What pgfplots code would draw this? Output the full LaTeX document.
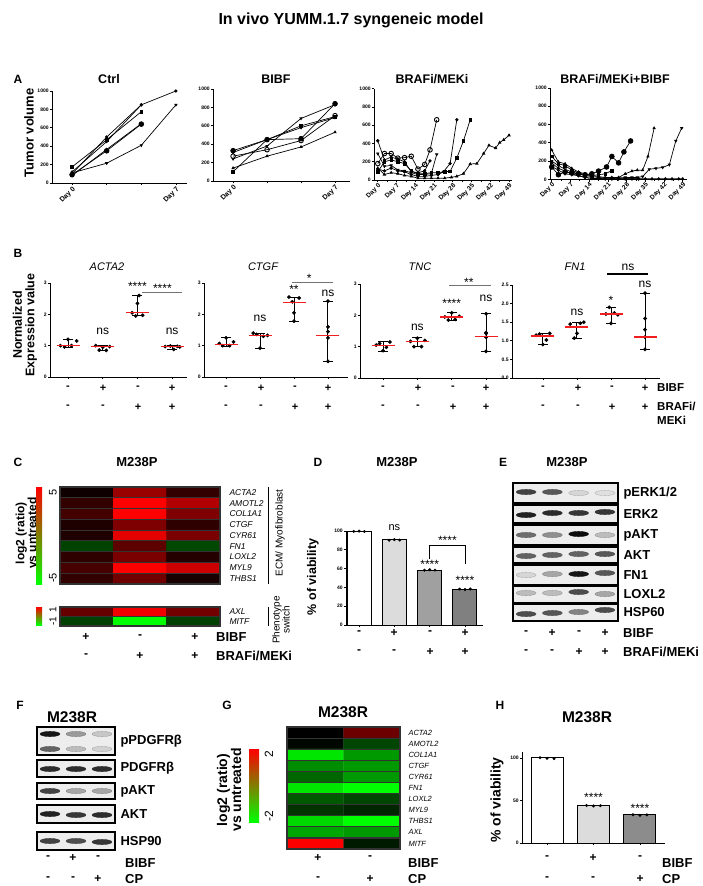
\documentclass[border=0pt]{standalone}
\usepackage{fontspec}
\setmainfont{Liberation Sans}
\usepackage{pgfplots}
\usepackage{pgfplotstable}
\pgfplotsset{compat=1.18}
\newcommand{\fs}[1]{\fontsize{#1}{#1}\selectfont}
\definecolor{medred}{RGB}{240,30,30}
\definecolor{barA}{RGB}{220,220,220}
\definecolor{barB}{RGB}{160,160,160}
\definecolor{barC}{RGB}{128,128,128}
\definecolor{barH}{RGB}{140,140,140}
\pgfplotsset{
  base/.style={scale only axis, anchor=south west, clip=false, axis lines*=left,
    axis line style={-, line width=0.9pt}, tick align=outside,
    tick style={black, line width=0.7pt}, major tick length=2.2pt, minor tick length=1.5pt,
    ticklabel style={font=\fs{5}\bfseries, inner sep=1pt},
    /pgf/number format/assume math mode=true, /pgf/number format/1000 sep={},
    scaled ticks=false},
  ln/.style={black, line width=0.7pt, mark size=1.3pt, mark options={solid, fill=black}},
  dayx/.style={xticklabel style={rotate=45, anchor=north east, font=\fs{7}\bfseries, inner sep=0.5pt}},
  dayxs/.style={xticklabel style={rotate=45, anchor=north east, font=\fs{6.5}\bfseries, inner sep=0.3pt}},
  rng/.style={black, line width=1pt, mark=-, mark size=5pt, unbounded coords=jump, mark options={solid, line width=1pt}},
  med/.style={only marks, mark=-, mark size=11.5pt, mark options={draw=medred, line width=1.2pt}},
  pts/.style={only marks, mark=*, mark size=1.7pt, black},
  hm/.style={scale only axis, anchor=south west, enlargelimits=false, y dir=reverse, axis on top,
    xtick=\empty, major tick length=0pt, minor tick length=0pt, grid=minor,
    minor grid style={draw=black!80, line width=1.2pt}, axis line style={black!80, line width=1.4pt},
    yticklabel pos=right, colormap={rg}{rgb255=(0,255,0) rgb255=(0,0,0) rgb255=(255,0,0)}},
  blot/.style={scale only axis, anchor=south west, clip=false, y dir=reverse,
    axis line style={draw=none}, xtick=\empty, major tick length=0pt, yticklabel pos=right,
    yticklabel style={font=\fs{13}\bfseries, xshift=2pt},
    colormap={bl}{rgb255=(232,232,232) rgb255=(12,12,12)}, point meta min=0, point meta max=1},
  band/.style={scatter, only marks, scatter src=explicit, mark=*, mark size=2.6pt, mark options={xscale=3.8}},
  cbar/.style={scale only axis, anchor=south west, hide axis},
}
\tikzset{
  pl/.style={font=\fs{12}\bfseries, inner sep=0pt},
  sg/.style={font=\fs{12}\bfseries, inner sep=0pt},
  sgB/.style={font=\fs{11}\bfseries, inner sep=0pt},
  lab/.style={font=\fs{13}\bfseries, anchor=west, inner sep=0pt},
  ann/.style={font=\fs{12}, inner sep=0pt},
  ttl/.style={font=\fs{13}\bfseries, inner sep=0pt},
}
\begin{document}
\begin{tikzpicture}[x=1pt,y=1pt]
\useasboundingbox (0,0) rectangle (703,-886);
\node[font=\fs{16}\bfseries] at (351,-20) {In vivo YUMM.1.7 syngeneic model};
% ---------------- Panel A ----------------
\node[pl] at (18,-79) {A};
\node[font=\fs{12.5}\bfseries] at (109,-79) {Ctrl};
\node[font=\fs{12.5}\bfseries] at (276,-79) {BIBF};
\node[font=\fs{12.5}\bfseries] at (432,-79) {BRAFi/MEKi};
\node[font=\fs{12.5}\bfseries] at (615,-79) {BRAFi/MEKi+BIBF};
\node[rotate=90, font=\fs{13}\bfseries] at (29,-133) {Tumor volume};

\begin{axis}[base, at={(52pt,-183pt)}, width=135pt, height=92pt, xmin=-0.58, xmax=3.32,
  ymin=0, ymax=1000, ytick={0,200,...,1000}, xtick={0,1,2,3}, xticklabels={Day 0,,,Day 7}, dayx]
\addplot[ln, mark=*] coordinates {(0,100)(1,500)(2,850)(3,1000)};
\addplot[ln, mark=square*] coordinates {(0,175)(1,470)(2,775)};
\addplot[ln, mark=*, mark size=2.4pt] coordinates {(0,90)(1,350)(2,640)};
\addplot[ln, mark=diamond*] coordinates {(0,120)(1,450)(2,850)};
\addplot[ln, mark=triangle*] coordinates {(0,80)(1,365)(2,645)};
\addplot[ln, mark=triangle*, mark options={solid, fill=black, rotate=180}] coordinates {(0,110)(1,215)(2,410)(3,850)};
\end{axis}

\begin{axis}[base, at={(213pt,-181pt)}, width=137pt, height=92pt, xmin=-0.59, xmax=3.44,
  ymin=0, ymax=1000, ytick={0,200,...,1000}, xtick={0,1,2,3}, xticklabels={Day 0,,,Day 7}, dayx]
\addplot[ln, mark=*, mark size=2.4pt] coordinates {(0,330)(1,450)(2,460)(3,840)};
\addplot[ln, mark=square*] coordinates {(0,100)(1,450)(2,600)(3,700)};
\addplot[ln, mark=o, mark size=2.3pt, mark options={solid, fill=white, line width=0.9pt}] coordinates {(0,270)(1,340)(2,440)(3,710)};
\addplot[ln, mark=triangle*] coordinates {(0,140)(1,270)(2,370)(3,530)};
\addplot[ln, mark=triangle*, mark options={solid, fill=black, rotate=180}] coordinates {(0,240)(1,380)(2,680)(3,830)};
\addplot[ln, mark=diamond*] coordinates {(0,310)(1,450)(2,580)(3,690)};
\end{axis}

\begin{axis}[base, at={(374pt,-180pt)}, width=138pt, height=91.3pt, xmin=-1.4, xmax=50.1,
  ymin=0, ymax=1000, ytick={0,200,...,1000}, xtick={0,7,...,49}, minor x tick num=1,
  xticklabels={Day 0,Day 7,Day 14,Day 21,Day 28,Day 35,Day 42,Day 49}, dayxs]
\addplot[ln, mark=o, mark size=2.3pt, mark options={solid, fill=white, line width=0.9pt}] coordinates {(0,180)(2.5,290)(5,290)(7.5,240)(10,245)(12.5,260)(15,120)(17.5,170)(19.5,330)(22,660)};
\addplot[ln, mark=*] coordinates {(0,430)(2.5,220)(5,250)(7.5,230)(10,200)(12.5,90)(15,80)(17.5,100)(19.5,210)};
\addplot[ln, mark=triangle*, mark options={solid, fill=black, rotate=180}] coordinates {(0,290)(2.5,150)(5,160)(7.5,110)(10,100)(12.5,80)(15,60)(17.5,60)(20,70)(22,280)};
\addplot[ln, mark=*] coordinates {(0,120)(2.5,100)(5,130)(7.5,100)(10,90)(12.5,60)(15,40)(17.5,40)(20,50)(22.5,60)(24.5,90)(27,180)(29.5,660)};
\addplot[ln, mark=square*] coordinates {(0,90)(2.5,200)(5,220)(7.5,200)(10,180)(12.5,100)(15,70)(17.5,70)(20,80)(22.5,80)(25,90)(27,95)(29.5,240)(32,430)(34.5,660)};
\addplot[ln, mark=triangle*] coordinates {(0,130)(2.5,60)(5,80)(7.5,70)(10,50)(12.5,40)(15,20)(17.5,20)(20,20)(22.5,20)(25,20)(27.5,30)(29.5,40)(32,70)(34.5,175)(37,180)(39.5,290)(41.5,380)(44,350)(45.5,410)(47,440)(49,490)};
\end{axis}

\begin{axis}[base, at={(550pt,-179.3pt)}, width=137pt, height=91.3pt, xmin=-0.64, xmax=50.6,
  ymin=0, ymax=1000, ytick={0,200,...,1000}, xtick={0,7,...,49}, minor x tick num=1,
  xticklabels={Day 0,Day 7,Day 14,Day 21,Day 28,Day 35,Day 42,Day 49}, dayxs]
\addplot[ln, mark=*, mark size=2.4pt] coordinates {(0,135)(2.5,50)(5,80)(7.5,70)(10,60)(12.5,50)(15,60)(17.5,90)(20.5,135)(22.5,250)(25,180)(27,300)(29.5,420)};
\addplot[ln, mark=triangle*] coordinates {(0,320)(2.5,190)(5,170)(7.5,120)(10,80)(12.5,60)(15,40)(17.5,30)(20,20)(22.5,20)(25,20)(27.5,60)(30,90)(32,100)(34,100)(36,250)(38.3,560)};
\addplot[ln, mark=triangle*, mark options={solid, fill=black, rotate=180}] coordinates {(0,200)(2.5,150)(5,110)(7.5,80)(10,60)(12.5,40)(15,30)(17.5,20)(20,15)(22.5,15)(25,15)(27.5,20)(30,20)(32,20)(34,30)(36.5,110)(39,120)(41.5,130)(44,160)(46.4,420)(48.6,560)};
\addplot[ln, mark=square*] coordinates {(0,250)(2.5,170)(5,150)(7.5,100)(10,70)(12.5,50)(15,40)(17.5,50)(20,60)(22.5,95)};
\addplot[ln, mark=diamond*] coordinates {(0,140)(2.5,100)(5,60)(7.5,50)(10,40)(12.5,20)(15,10)(17.5,8)(20,5)(22.5,5)(25,5)(27.5,5)(30,5)(32.5,5)(35,5)(37.5,5)(40,5)(42.5,5)(45,5)(47.5,5)(49,5)};
\addplot[ln, mark=*] coordinates {(0,180)(2.5,120)(5,90)(7.5,60)(10,40)(12.5,20)(15,10)(17.5,10)(20,5)(22.5,5)(25,5)(27.5,5)(30,5)(32.5,5)};
\end{axis}

% ---------------- Panel B ----------------
\node[pl] at (18,-253) {B};
\node[rotate=90, align=center, font=\fs{12.5}\bfseries] at (25,-325) {Normalized\\Expression value};
\node[font=\fs{11}\itshape] at (107,-267) {ACTA2};
\node[font=\fs{11}\itshape] at (263,-267) {CTGF};
\node[font=\fs{11}\itshape] at (420,-267) {TNC};
\node[font=\fs{11}\itshape] at (575,-267) {FN1};

\begin{axis}[base, at={(50pt,-377pt)}, width=137pt, height=94pt, xmin=0.48, xmax=4.43,
  ymin=0, ymax=3, ytick={0,1,2,3}, xtick={1,2,3,4}, xticklabels={}]
\addplot[rng] table {
x y
1 0.95
1 1.2
nan nan
2 0.85
2 1.02
nan nan
3 1.95
3 2.6
nan nan
4 0.88
4 1.0
};
\addplot[pts] table {
x y
0.78 1.0
0.9 0.96
1.0 1.2
1.1 1.0
1.25 1.15
1.8 1.0
1.9 0.86
2.0 0.95
2.1 0.85
2.2 0.97
2.85 2.05
2.95 1.95
3.0 2.35
3.05 2.6
3.15 1.97
3.8 0.97
3.95 0.99
4.05 0.88
4.15 0.98
4.22 0.96
};
\addplot[med] table {
x y
1 1.0
2 0.97
3 2.07
4 0.97
};
\node[ann] at (axis cs:2,1.45) {ns};
\node[ann] at (axis cs:4,1.45) {ns};
\node[ann] at (axis cs:3,2.88) {****};
\draw[black!55, line width=0.8pt] (axis cs:3.14,2.71) -- (axis cs:4.29,2.71);
\node[ann] at (axis cs:3.72,2.83) {****};
\end{axis}

\begin{axis}[base, at={(204pt,-377pt)}, width=144pt, height=94pt, xmin=0.35, xmax=4.59,
  ymin=0, ymax=3, ytick={0,1,2,3}, xtick={1,2,3,4}, xticklabels={}]
\addplot[rng] table {
x y
1 0.98
1 1.25
nan nan
2 0.92
2 1.4
nan nan
3 1.78
3 2.55
nan nan
4 0.5
4 2.42
};
\addplot[pts] table {
x y
0.8 1.07
0.9 1.0
1.0 1.25
1.1 1.0
1.22 1.12
1.8 1.4
1.9 1.36
2.0 0.92
2.1 1.3
2.22 1.33
2.85 2.55
2.95 2.4
3.0 2.05
3.0 1.78
3.15 2.52
4 0.5
4 1.25
4 1.45
4 1.6
4 2.42
};
\addplot[med] table {
x y
1 1.05
2 1.32
3 2.38
4 1.32
};
\node[ann] at (axis cs:2,1.88) {ns};
\node[ann] at (axis cs:4,2.68) {ns};
\node[ann] at (axis cs:3,2.8) {**};
\draw[black!55, line width=0.8pt] (axis cs:2.94,3.03) -- (axis cs:4.15,3.03);
\node[ann] at (axis cs:3.45,3.16) {*};
\end{axis}

\begin{axis}[base, at={(360pt,-378pt)}, width=147pt, height=94pt, xmin=0.33, xmax=4.61,
  ymin=0, ymax=3, ytick={0,1,2,3}, xtick={1,2,3,4}, xticklabels={}]
\addplot[rng] table {
x y
1 0.85
1 1.15
nan nan
2 1.0
2 1.28
nan nan
3 1.85
3 2.1
nan nan
4 0.85
4 2.05
};
\addplot[pts] table {
x y
0.8 1.05
0.9 1.1
1.0 0.87
1.1 0.98
1.2 1.15
1.8 1.17
1.9 1.0
2.0 1.27
2.12 1.0
2.22 1.2
2.8 1.95
2.9 1.85
3.0 2.08
3.1 1.87
3.22 1.97
4 0.85
4 1.3
4 1.42
4 1.45
4 2.05
};
\addplot[med] table {
x y
1 1.05
2 1.17
3 1.95
4 1.32
};
\node[ann] at (axis cs:2,1.63) {ns};
\node[ann] at (axis cs:4,2.55) {ns};
\node[ann] at (axis cs:3,2.38) {****};
\draw[black!55, line width=0.8pt] (axis cs:2.92,2.94) -- (axis cs:4.13,2.94);
\node[ann] at (axis cs:3.5,3.05) {**};
\end{axis}

\begin{axis}[base, at={(512pt,-378pt)}, width=148pt, height=93pt, xmin=0.09, xmax=4.44,
  ymin=0, ymax=2.5, ytick={0,0.5,...,2.5}, xtick={1,2,3,4}, xticklabels={},
  yticklabel style={/pgf/number format/fixed, /pgf/number format/fixed zerofill, /pgf/number format/precision=1}]
\addplot[rng] table {
x y
1 0.9
1 1.2
nan nan
2 1.07
2 1.5
nan nan
3 1.47
3 1.9
nan nan
4 0.77
4 2.28
};
\addplot[pts] table {
x y
0.8 1.15
0.9 1.18
1.0 0.9
1.1 1.02
1.2 1.2
1.8 1.45
1.92 1.07
2.0 1.2
2.1 1.47
2.2 1.5
2.85 1.72
2.95 1.9
3.0 1.47
3.1 1.75
3.2 1.7
4 0.77
4 1.1
4 1.3
4 1.6
4 2.28
};
\addplot[med] table {
x y
1 1.13
2 1.37
3 1.72
4 1.1
};
\node[ann] at (axis cs:2,1.77) {ns};
\node[ann] at (axis cs:4,2.53) {ns};
\node[ann] at (axis cs:3,2.08) {*};
\draw[black, line width=1.6pt] (axis cs:2.88,2.8) -- (axis cs:4.09,2.8);
\node[ann] at (axis cs:3.5,2.98) {ns};
\end{axis}

\foreach \x/\s in {68/-,103/+,138/-,172/+,226/-,261/+,295/-,328/+,383/-,418/+,453/-,486/+,543/-,578/+,612/-,645/+} \node[sgB] at (\x,-388) {\s};
\foreach \x/\s in {68/-,103/-,138/+,172/+,226/-,261/-,295/+,328/+,383/-,418/-,453/+,486/+,543/-,578/-,612/+,645/+} \node[sgB] at (\x,-407) {\s};
\node[font=\fs{11.5}\bfseries, anchor=west, inner sep=0pt] at (657,-388) {BIBF};
\node[font=\fs{11.5}\bfseries, anchor=west, inner sep=0pt] at (657,-406) {BRAFi/};
\node[font=\fs{11.5}\bfseries, anchor=west, inner sep=0pt] at (657,-420) {MEKi};

% ---------------- Panel C ----------------
\node[pl] at (18,-462) {C};
\node[ttl] at (137,-462) {M238P};
\node[rotate=90, align=center, font=\fs{12}\bfseries] at (26,-533) {log2 (ratio)\\vs untreated};
\begin{axis}[cbar, at={(36pt,-584pt)}, width=6pt, height=97pt, xmin=0, xmax=1, ymin=-5, ymax=5]
\path[bottom color=green, middle color=black, top color=red] (axis cs:0,-5) rectangle (axis cs:1,5);
\end{axis}
\node[rotate=90, font=\fs{11}] at (53,-492) {5};
\node[rotate=90, font=\fs{11}] at (53,-578) {-5};
\begin{axis}[cbar, at={(36pt,-625pt)}, width=6pt, height=18pt, xmin=0, xmax=1, ymin=-1, ymax=1]
\path[bottom color=green, middle color=black, top color=red] (axis cs:0,-1) rectangle (axis cs:1,1);
\end{axis}
\node[rotate=90, font=\fs{10}] at (53,-610) {1};
\node[rotate=90, font=\fs{10}] at (53,-621) {-1};

\begin{axis}[hm, at={(60pt,-584pt)}, width=160pt, height=97pt, xmin=-0.5, xmax=2.5, ymin=-0.5, ymax=8.5,
  point meta min=-5, point meta max=5, minor xtick={0.5,1.5}, minor ytick={0.5,1.5,...,7.5},
  ytick={0,...,8}, yticklabels={ACTA2,AMOTL2,COL1A1,CTGF,CYR61,FN1,LOXL2,MYL9,THBS1},
  yticklabel style={font=\fs{8.5}\itshape, xshift=6pt}]
\addplot[matrix plot*, mesh/cols=3, point meta=explicit] table[meta=c] {
x y c
0 0 0.3
1 0 3.0
2 0 1.0
0 1 1.0
1 1 5.0
2 1 3.5
0 2 1.3
1 2 5.0
2 2 2.5
0 3 0.6
1 3 2.5
2 3 0.9
0 4 0.6
1 4 4.5
2 4 2.4
0 5 -1.3
1 5 1.8
2 5 -1.4
0 6 0.9
1 6 2.4
2 6 0.7
0 7 1.4
1 7 5.0
2 7 4.0
0 8 1.0
1 8 2.2
2 8 0.5
};
\end{axis}
\begin{axis}[hm, at={(60pt,-626pt)}, width=160pt, height=19pt, xmin=-0.5, xmax=2.5, ymin=-0.5, ymax=1.5,
  point meta min=-1, point meta max=1, minor xtick={0.5,1.5}, minor ytick={0.5},
  ytick={0,1}, yticklabels={AXL,MITF}, yticklabel style={font=\fs{8.5}\itshape, xshift=6pt}]
\addplot[matrix plot*, mesh/cols=3, point meta=explicit] table[meta=c] {
x y c
0 0 0.4
1 0 0.95
2 0 0.45
0 1 -0.25
1 1 -1.0
2 1 -0.25
};
\end{axis}
\draw[line width=0.8pt] (268,-487) -- (268,-584);
\node[rotate=90, font=\fs{10}] at (280,-533) {ECM/ Myofibroblast};
\draw[line width=0.8pt] (268,-607) -- (268,-626);
\node[rotate=90, align=center, font=\fs{10}] at (281,-620) {Phenotype\\switch};
\foreach \x/\s in {86/+,140/-,195/+} \node[sg] at (\x,-637) {\s};
\foreach \x/\s in {86/-,140/+,195/+} \node[sg] at (\x,-656) {\s};
\node[lab] at (216,-637) {BIBF};
\node[lab] at (216,-656) {BRAFi/MEKi};

% ---------------- Panel D ----------------
\node[pl] at (318,-462) {D};
\node[ttl] at (397,-462) {M238P};
\node[rotate=90, font=\fs{12.5}\bfseries] at (313,-577) {\% of viability};
\begin{axis}[base, at={(346pt,-625pt)}, width=137pt, height=94pt, xmin=0.63, xmax=4.51,
  ymin=0, ymax=100, ytick={0,20,...,100}, xtick={1,2,3,4}, xticklabels={}]
\addplot[ybar, bar width=24pt, bar shift=0pt, fill=white, draw=black, line width=1pt] coordinates {(1,100)};
\addplot[ybar, bar width=24pt, bar shift=0pt, fill=barA, draw=black, line width=1pt] coordinates {(2,90.5)};
\addplot[ybar, bar width=24pt, bar shift=0pt, fill=barB, draw=black, line width=1pt] coordinates {(3,58.5)};
\addplot[ybar, bar width=24pt, bar shift=0pt, fill=barC, draw=black, line width=1pt] coordinates {(4,38)};
\addplot[only marks, mark=*, mark size=1.3pt, black] coordinates {(0.85,99.6)(1,99.9)(1.15,99.5)(1.85,90.2)(2,90.8)(2.15,90.4)(2.85,58.3)(3,58.8)(3.15,58.4)(3.85,38.2)(4,37.8)(4.15,38.3)};
\node[ann, font=\fs{11}] at (axis cs:2,104) {ns};
\node[ann] at (axis cs:3,65) {****};
\node[ann] at (axis cs:4,47) {****};
\draw[line width=0.8pt] (axis cs:3,70) -- (axis cs:3,85) -- (axis cs:4,85) -- (axis cs:4,65);
\node[ann] at (axis cs:3.5,90) {****};
\end{axis}
\foreach \x/\s in {359/-,394/+,430/-,465/+} \node[sg] at (\x,-633) {\s};
\foreach \x/\s in {359/-,394/-,430/+,465/+} \node[sg] at (\x,-652) {\s};

% ---------------- Panel E ----------------
\node[pl] at (503,-462) {E};
\node[ttl] at (567,-462) {M238P};
\begin{axis}[blot, at={(513pt,-621pt)}, width=105pt, height=138pt, xmin=0.5, xmax=4.5, ymin=483, ymax=621,
  ytick={493,514,535,555,575,594.5,612.5}, yticklabels={pERK1/2,ERK2,pAKT,AKT,FN1,LOXL2,HSP60}]
\draw[line width=1.5pt, fill=black!7] (axis cs:0.5,483) rectangle (axis cs:4.5,503);
\draw[line width=1.5pt, fill=black!7] (axis cs:0.5,505) rectangle (axis cs:4.5,523);
\draw[line width=1.5pt, fill=black!7] (axis cs:0.5,525) rectangle (axis cs:4.5,545);
\draw[line width=1.5pt, fill=black!7] (axis cs:0.5,547) rectangle (axis cs:4.5,563);
\draw[line width=1.5pt, fill=black!7] (axis cs:0.5,565) rectangle (axis cs:4.5,585);
\draw[line width=1.5pt, fill=black!7] (axis cs:0.5,586) rectangle (axis cs:4.5,603);
\draw[line width=1.5pt, fill=black!7] (axis cs:0.5,604) rectangle (axis cs:4.5,621);
\addplot[band] table[meta=c] {
x y c
1 492 0.75
2 492 0.65
3 493 0.08
4 493 0.04
1 515 0.9
2 513 0.85
3 513 0.8
4 512 0.8
1 535 0.55
2 535 0.4
3 534 1.0
4 535 0.2
1 556 0.6
2 555 0.6
3 554 0.6
4 554 0.65
1 575 0.08
2 574 0.3
3 574 0.95
4 573 0.65
1 593 0.2
2 593 0.2
3 592 0.7
4 594 0.3
1 614 0.7
2 613 0.65
3 612 0.45
4 610 0.7
};
\end{axis}
\foreach \x/\s in {526/-,552/+,579/-,605/+} \node[sg] at (\x,-633) {\s};
\foreach \x/\s in {526/-,552/-,579/+,605/+} \node[sg] at (\x,-652) {\s};
\node[lab] at (623,-633) {BIBF};
\node[lab] at (623,-652) {BRAFi/MEKi};

% ---------------- Panel F ----------------
\node[pl] at (20,-705) {F};
\node[font=\fs{15.5}\bfseries] at (72,-717) {M238R};
\begin{axis}[blot, at={(37pt,-850pt)}, width=78pt, height=123pt, xmin=0.5, xmax=3.5, ymin=727, ymax=850,
  ytick={741,768.5,791,814,841}, yticklabels={pPDGFRβ,PDGFRβ,pAKT,AKT,HSP90}]
\draw[line width=1.5pt, fill=black!7] (axis cs:0.5,727) rectangle (axis cs:3.5,755);
\draw[line width=1.5pt, fill=black!7] (axis cs:0.5,760) rectangle (axis cs:3.5,777);
\draw[line width=1.5pt, fill=black!7] (axis cs:0.5,783) rectangle (axis cs:3.5,799);
\draw[line width=1.5pt, fill=black!7] (axis cs:0.5,805) rectangle (axis cs:3.5,823);
\draw[line width=1.5pt, fill=black!7] (axis cs:0.5,832) rectangle (axis cs:3.5,850);
\addplot[band] table[meta=c] {
x y c
1 734 0.95
2 734 0.35
3 734 0.15
1 749 0.6
2 749 0.2
3 749 0.1
1 769 0.85
2 769 0.85
3 769 0.85
1 791 0.75
2 791 0.3
3 791 0.3
1 814 0.9
2 815 0.8
3 815 0.85
1 841 0.75
2 841 0.7
3 842 0.8
};
\end{axis}
\foreach \x/\s in {48/-,73/+,98/-} \node[sg] at (\x,-858) {\s};
\foreach \x/\s in {48/-,73/-,98/+} \node[sg] at (\x,-879) {\s};
\node[lab] at (125,-863) {BIBF};
\node[lab] at (125,-879) {CP};

% ---------------- Panel G ----------------
\node[pl] at (227,-705) {G};
\node[font=\fs{15.5}\bfseries] at (343,-712) {M238R};
\node[rotate=90, align=center, font=\fs{14}\bfseries] at (229,-790) {log2 (ratio)\\vs untreated};
\begin{axis}[cbar, at={(249pt,-822pt)}, width=10pt, height=73pt, xmin=0, xmax=1, ymin=-2, ymax=2]
\path[bottom color=green, middle color=black, top color=red] (axis cs:0,-2) rectangle (axis cs:1,2);
\end{axis}
\node[rotate=90, font=\fs{12}] at (269,-754) {2};
\node[rotate=90, font=\fs{12}] at (269,-816) {-2};
\begin{axis}[hm, at={(287pt,-849pt)}, width=113pt, height=122pt, xmin=-0.5, xmax=1.5, ymin=-0.5, ymax=10.5,
  point meta min=-2, point meta max=2, minor xtick={0.5}, minor ytick={0.5,1.5,...,9.5},
  ytick={0,...,10}, yticklabels={ACTA2,AMOTL2,COL1A1,CTGF,CYR61,FN1,LOXL2,MYL9,THBS1,AXL,MITF},
  yticklabel style={font=\fs{7.5}\itshape, xshift=5pt}]
\addplot[matrix plot*, mesh/cols=2, point meta=explicit] table[meta=c] {
x y c
0 0 0.0
1 0 0.85
0 1 -0.05
1 1 -0.55
0 2 -1.8
1 2 -1.2
0 3 -1.1
1 3 -1.2
0 4 -0.8
1 4 -1.2
0 5 -1.8
1 5 -2.0
0 6 -0.7
1 6 -0.55
0 7 -0.4
1 7 -0.3
0 8 -1.7
1 8 -2.0
0 9 -1.3
1 9 -1.2
0 10 2.0
1 10 -0.2
};
\end{axis}
\foreach \x/\s in {318/+,370/-} \node[sg] at (\x,-858) {\s};
\foreach \x/\s in {318/-,370/+} \node[sg] at (\x,-879) {\s};
\node[lab] at (408,-863) {BIBF};
\node[lab] at (408,-879) {CP};

% ---------------- Panel H ----------------
\node[pl] at (500,-705) {H};
\node[font=\fs{15.5}\bfseries] at (587,-717) {M238R};
\node[rotate=90, font=\fs{14}\bfseries] at (497,-800) {\% of viability};
\begin{axis}[base, at={(522pt,-843pt)}, width=143pt, height=91pt, xmin=0.46, xmax=3.54,
  ymin=0, ymax=107, ytick={0,50,100}, xtick={1,2,3}, xticklabels={}]
\addplot[ybar, bar width=32pt, bar shift=0pt, fill=white, draw=black, line width=1pt] coordinates {(1,100)};
\addplot[ybar, bar width=32pt, bar shift=0pt, fill=barA, draw=black, line width=1pt] coordinates {(2,44)};
\addplot[ybar, bar width=32pt, bar shift=0pt, fill=barH, draw=black, line width=1pt] coordinates {(3,33)};
\addplot[only marks, mark=*, mark size=1.3pt, black] coordinates {(0.85,100.3)(1,99.6)(1.15,99.2)(1.85,44.2)(2,43.6)(2.15,43.9)(2.85,33.2)(3,32.6)(3.15,33.1)};
\node[ann] at (axis cs:2,54) {****};
\node[ann] at (axis cs:3,41) {****};
\end{axis}
\foreach \x/\s in {547/-,593/+,640/-} \node[sg] at (\x,-858) {\s};
\foreach \x/\s in {547/-,593/-,640/+} \node[sg] at (\x,-879) {\s};
\node[lab] at (662,-863) {BIBF};
\node[lab] at (662,-879) {CP};
\end{tikzpicture}
\end{document}
